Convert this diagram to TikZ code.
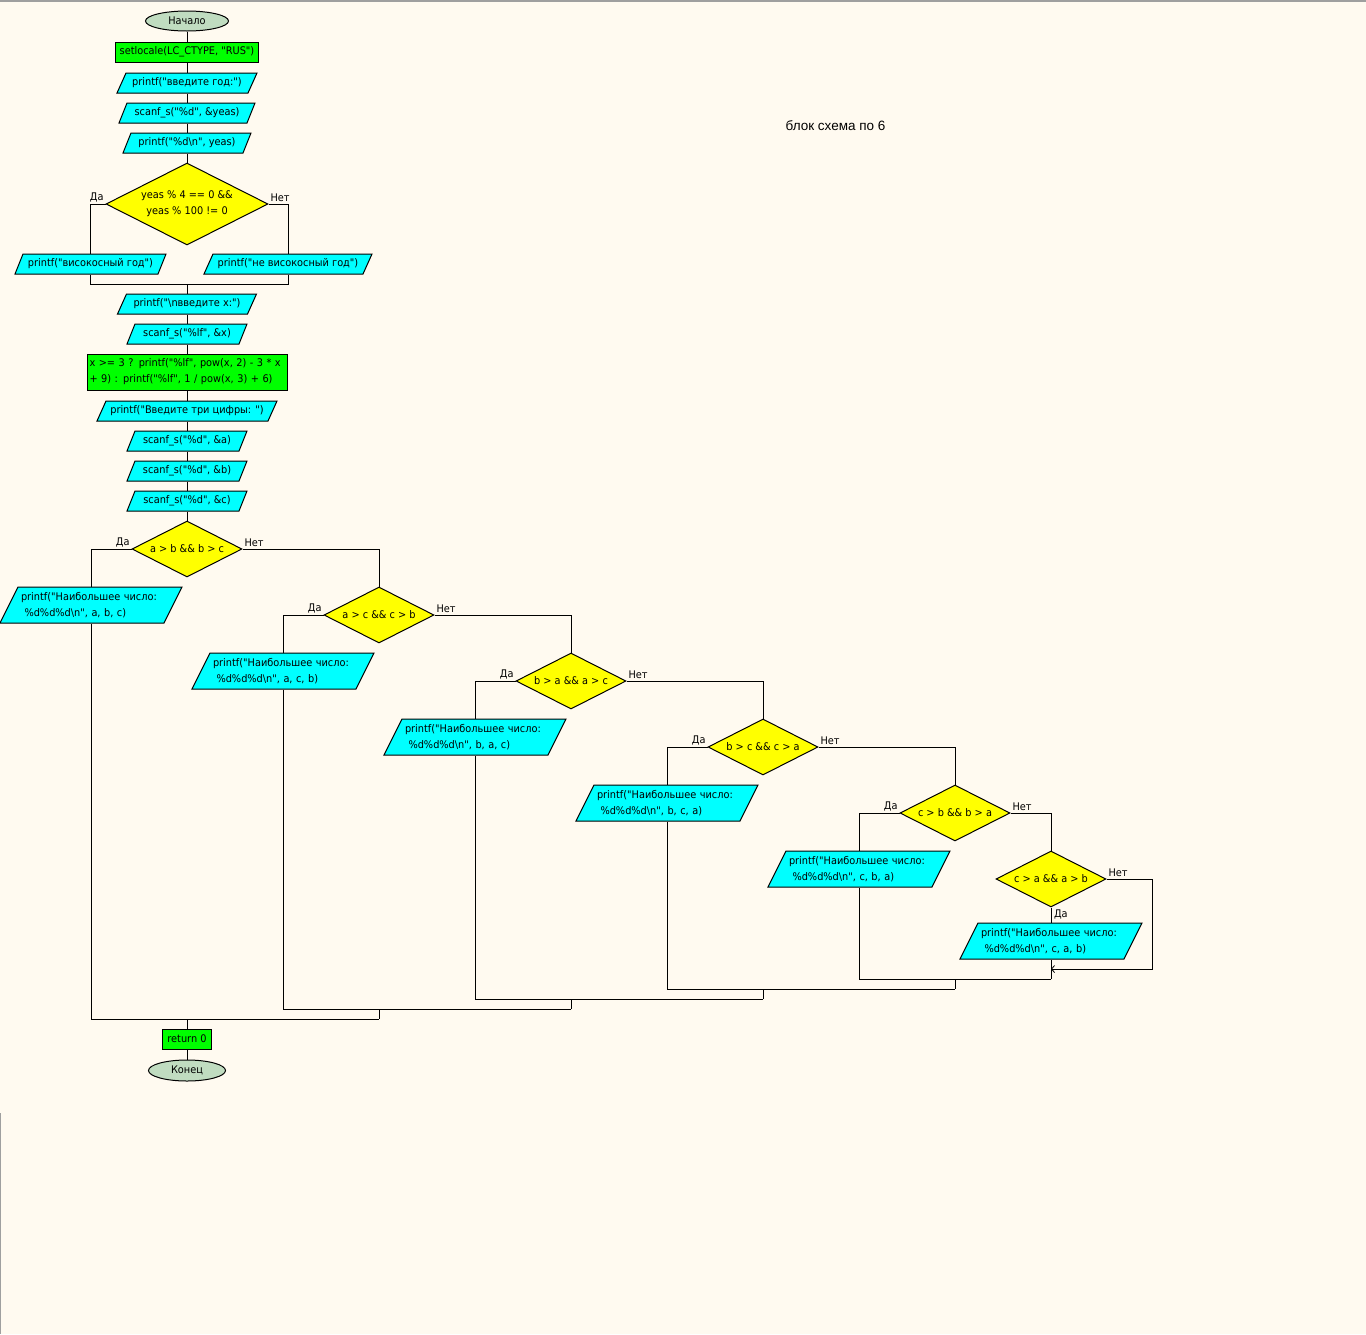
\documentclass[tikz,border=0pt]{standalone}
\usepackage{fontspec}
\setmainfont{DejaVu Sans}[FakeStretch=0.93, Ligatures=TeXOff]
\newfontfamily\titlefont{Liberation Sans}
\usetikzlibrary{shapes.geometric,arrows.meta}
\definecolor{bg}{HTML}{FFFAF0}
\definecolor{termf}{HTML}{C0DCC0}
\definecolor{cyanf}{HTML}{00FFFF}
\definecolor{greenf}{HTML}{00FF00}
\definecolor{yellowf}{HTML}{FFFF00}
\tikzset{
 every node/.append style={font=\fontsize{10.5}{16}\selectfont},
 term/.style={ellipse, draw, fill=termf, inner sep=0pt},
 proc/.style={rectangle, draw, fill=greenf, inner sep=0pt},
 iofill/.style={draw, fill=cyanf},
 iotext/.style={rectangle, inner sep=0pt, align=left},
 dec/.style={diamond, aspect=2, draw, fill=yellowf, inner sep=0pt, minimum width=110pt, minimum height=56pt, align=center},
 lbl/.style={inner sep=1.5pt},
 looparrow/.style={-{Straight Barb[length=3pt,width=7pt,line width=0.8pt]}},
}
% name, cx, cy, side length, height, slant, text
\newcommand{\iobox}[7]{%
  \path[iofill] ({#2-(#4+#6)/2},{#3+#5/2}) -- ++(#4,0) -- ({#2+(#4+#6)/2},{#3-#5/2}) -- ++(-#4,0) -- cycle;
  \node[iotext, minimum width={#4+#6}, minimum height=#5] (#1) at (#2,#3) {#7};
}
% two-line result box: name, cx, cy, text
\newcommand{\resbox}[4]{%
  \path[iofill] ({#2-91},{#3+18}) -- ++(164,0) -- ({#2+91},{#3-18}) -- ++(-164,0) -- cycle;
  \node[iotext, minimum width=182pt, minimum height=36pt, text width=140pt] (#1) at (#2,#3) {#4};
}
\begin{document}
\begin{tikzpicture}[x=1pt,y=-1pt,line width=1pt]
\fill[bg] (0,0) rectangle (1366,1334);
\useasboundingbox (0,0) rectangle (1366,1334);
\draw[gray!75, line width=1.5pt] (0,0.75) -- (1366,0.75);
\draw[gray!75] (0.5,1113) -- (0.5,1334);

\node[font=\titlefont\fontsize{13.5}{16}\selectfont] (title) at (835.5,126) {блок схема по 6};

% top chain
\node[term, minimum width=83pt, minimum height=20pt] (start) at (187,21) {Начало};
\node[proc, minimum width=143pt, minimum height=20pt] (setl) at (187,52) {setlocale(LC\_CTYPE, "RUS")};
\iobox{pgod}{187}{83}{131}{20}{9}{printf("введите год:")}
\iobox{sy}{187}{113}{128}{20}{8}{scanf\_s("\%d", \&yeas)}
\iobox{py}{187}{143}{120}{20}{8}{printf("\%d\textbackslash n", yeas)}
\node[dec, minimum width=162pt, minimum height=82pt] (d0) at (187,204) {yeas \% 4 == 0 \&\&\\yeas \% 100 != 0};
\iobox{pv}{90.5}{264}{143}{20}{8}{printf("високосный год")}
\iobox{pnv}{288}{264}{159}{20}{9}{printf("не високосный год")}
\coordinate (m0) at (187,284);
\iobox{px}{187}{304}{130}{20}{9}{printf("\textbackslash nвведите x:")}
\iobox{sx}{187}{334}{112}{20}{8}{scanf\_s("\%lf", \&x)}
\node[proc, minimum width=200pt, minimum height=36pt, align=left, text width=195pt] (calc) at (187,372) {x >= 3 ? printf("\%lf", pow(x, 2) - 3 * x\\+ 9) : printf("\%lf", 1 / pow(x, 3) + 6)};
\iobox{p3}{187}{411}{171}{20}{9}{printf("Введите три цифры: ")}
\iobox{sa}{187}{441}{112}{20}{8}{scanf\_s("\%d", \&a)}
\iobox{sb}{187}{471}{112}{20}{8}{scanf\_s("\%d", \&b)}
\iobox{sc}{187}{501}{112}{20}{8}{scanf\_s("\%d", \&c)}

% decisions
\node[dec] (d1) at (187,549) {a > b \&\& b > c};
\node[dec] (d2) at (379,615) {a > c \&\& c > b};
\node[dec] (d3) at (571,681) {b > a \&\& a > c};
\node[dec] (d4) at (763,747) {b > c \&\& c > a};
\node[dec] (d5) at (955,813) {c > b \&\& b > a};
\node[dec] (d6) at (1051,879) {c > a \&\& a > b};

\resbox{q1}{91}{605}{printf("Наибольшее число:\\\ \%d\%d\%d\textbackslash n", a, b, c)}
\resbox{q2}{283}{671}{printf("Наибольшее число:\\\ \%d\%d\%d\textbackslash n", a, c, b)}
\resbox{q3}{475}{737}{printf("Наибольшее число:\\\ \%d\%d\%d\textbackslash n", b, a, c)}
\resbox{q4}{667}{803}{printf("Наибольшее число:\\\ \%d\%d\%d\textbackslash n", b, c, a)}
\resbox{q5}{859}{869}{printf("Наибольшее число:\\\ \%d\%d\%d\textbackslash n", c, b, a)}
\resbox{q6}{1051}{941}{printf("Наибольшее число:\\\ \%d\%d\%d\textbackslash n", c, a, b)}

\node[proc, minimum width=49pt, minimum height=20pt] (ret) at (187,1039) {return 0};
\node[term, minimum width=77pt, minimum height=21pt] (fin) at (187,1070.5) {Конец};

% labels
\node[lbl, anchor=south east] (y0) at (d0.west) {Да};
\node[lbl, anchor=south west] (n0) at (d0.east) {Нет};
\node[lbl, anchor=south east] (y1) at (d1.west) {Да};
\node[lbl, anchor=south west] (n1) at (d1.east) {Нет};
\node[lbl, anchor=south east] (y2) at (d2.west) {Да};
\node[lbl, anchor=south west] (n2) at (d2.east) {Нет};
\node[lbl, anchor=south east] (y3) at (d3.west) {Да};
\node[lbl, anchor=south west] (n3) at (d3.east) {Нет};
\node[lbl, anchor=south east] (y4) at (d4.west) {Да};
\node[lbl, anchor=south west] (n4) at (d4.east) {Нет};
\node[lbl, anchor=south east] (y5) at (d5.west) {Да};
\node[lbl, anchor=south west] (n5) at (d5.east) {Нет};
\node[lbl, anchor=south west] (n6) at (d6.east) {Нет};
\node[lbl, anchor=north west] (y6) at ([xshift=1pt]d6.south) {Да};

% junction coordinates
\coordinate (c6a) at (1152,969);
\coordinate (c6b) at (1051,969);
\coordinate (j6) at (1051,979);
\coordinate (j5a) at (955,979);
\coordinate (j5b) at (955,989);
\coordinate (j4a) at (763,989);
\coordinate (j4b) at (763,999);
\coordinate (j3a) at (571,999);
\coordinate (j3b) at (571,1009);
\coordinate (j2a) at (379,1009);
\coordinate (j2b) at (379,1019);
\coordinate (j1) at (187,1019);

% connectors
\draw (start) -- (setl);
\draw (setl) -- (pgod);
\draw (pgod) -- (sy);
\draw (sy) -- (py);
\draw (py) -- (d0);
\draw (d0.west) -| (pv.north);
\draw (d0.east) -| (pnv.north);
\draw (pv.south) |- (m0);
\draw (pnv.south) |- (m0);
\draw (m0) -- (px.north);
\draw (px) -- (sx);
\draw (sx) -- (calc);
\draw (calc) -- (p3);
\draw (p3) -- (sa);
\draw (sa) -- (sb);
\draw (sb) -- (sc);
\draw (sc) -- (d1);
\draw (d1.west) -| (q1.north);
\draw (d1.east) -| (d2.north);
\draw (d2.west) -| (q2.north);
\draw (d2.east) -| (d3.north);
\draw (d3.west) -| (q3.north);
\draw (d3.east) -| (d4.north);
\draw (d4.west) -| (q4.north);
\draw (d4.east) -| (d5.north);
\draw (d5.west) -| (q5.north);
\draw (d5.east) -| (d6.north);
\draw (d6.south) -- (q6.north);
\draw[looparrow] (d6.east) -| (c6a) -- (c6b);
\draw (q6.south) -- (j6);
\draw (q5.south) |- (j6);
\draw (j5a) -- (j5b);
\draw (q4.south) |- (j5b);
\draw (j4a) -- (j4b);
\draw (q3.south) |- (j4b);
\draw (j3a) -- (j3b);
\draw (q2.south) |- (j3b);
\draw (j2a) -- (j2b);
\draw (q1.south) |- (j2b);
\draw (j1) -- (ret);
\draw (ret) -- (fin);
\end{tikzpicture}
\end{document}
